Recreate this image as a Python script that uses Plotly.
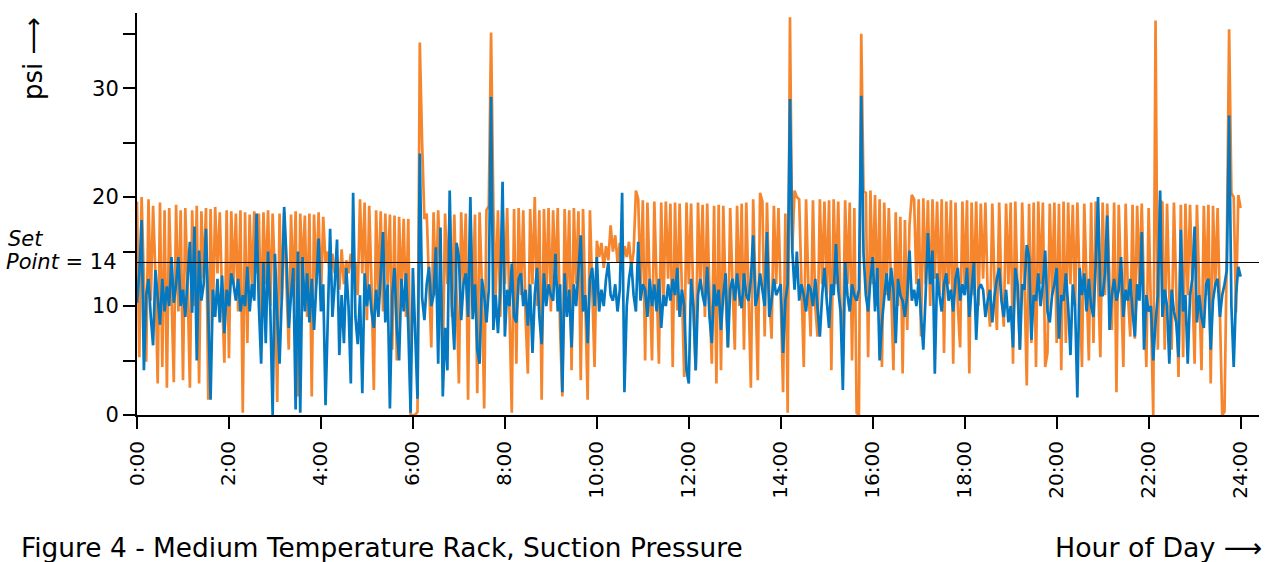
import plotly.graph_objects as go

# Suction pressure readings (psi), sampled every 0.05 h (3 min) from 0:00 to 24:00
step_h = 0.05

blue_psi = (
    [10.3,13.0,17.9,4.1,11.0,12.5,9.0,6.4,13.3,10.5,8.3,12.5,9.5,11.8,10.0,14.5,10.3,12.0,14.5,10.0] +
    [11.5,9.0,12.0,15.9,9.4,17.3,5.0,15.1,10.5,12.0,17.1,9.0,1.4,11.5,9.0,12.5,8.5,12.8,7.5,11.5] +
    [10.0,13.0,12.0,10.5,12.5,9.5,11.0,10.0,13.6,9.5,12.0,10.5,18.5,10.0,4.7,14.0,6.6,15.0,9.5,0.0] +
    [14.8,9.0,4.7,11.0,19.1,14.5,8.0,11.0,13.5,0.5,15.0,0.2,14.5,9.5,13.0,8.5,12.5,7.8,11.5,16.2] +
    [9.5,12.0,0.9,10.0,17.1,9.0,12.0,16.1,5.5,11.0,6.6,13.5,10.0,2.9,20.4,9.0,6.5,11.0,2.0,13.0] +
    [10.0,12.0,9.5,8.0,11.5,9.0,13.0,16.8,8.5,12.0,0.6,11.0,13.5,8.0,5.0,12.5,9.5,13.0,8.0,0.2] +
    [13.5,8.0,1.5,24.0,10.8,8.7,12.0,13.6,10.0,11.0,15.4,4.7,17.2,1.7,8.0,4.1,20.6,10.0,6.0,15.8] +
    [14.5,8.7,12.0,13.0,9.0,20.0,8.8,12.0,6.0,4.7,12.5,11.0,8.5,11.5,29.2,7.8,11.0,7.5,11.5,21.4] +
    [7.2,11.5,10.0,13.9,9.0,8.5,12.5,13.0,10.0,11.5,8.2,12.0,5.7,11.0,13.5,9.0,6.5,13.0,10.0,12.0] +
    [11.0,10.5,14.8,9.5,12.0,2.1,13.0,9.0,11.5,6.2,12.0,10.0,13.5,16.5,9.5,11.0,6.6,12.5,13.5,10.0] +
    [14.5,9.5,11.5,10.0,12.5,14.0,11.0,10.5,12.0,9.5,11.5,20.4,2.1,10.0,12.5,14.0,11.0,9.5,15.9,10.5] +
    [12.0,11.5,9.0,12.5,10.0,12.0,9.5,12.5,8.0,11.0,10.0,12.0,10.5,12.5,11.0,13.5,9.0,11.5,10.0,4.1] +
    [2.9,12.5,10.0,4.1,11.0,12.5,11.0,10.0,13.6,9.0,6.6,12.0,10.0,11.5,7.8,11.0,13.0,6.2,11.5,12.5] +
    [10.5,13.0,11.0,9.8,13.0,11.0,10.5,12.5,16.5,10.0,11.0,13.0,11.5,10.0,16.8,9.0,10.5,12.5,11.0,11.5] +
    [12.0,5.7,10.5,12.0,29.0,15.1,11.5,15.0,10.5,12.0,11.0,9.5,12.0,11.5,10.0,12.5,10.0,7.2,11.0,13.5] +
    [10.5,8.0,12.0,11.0,15.7,11.5,9.5,2.3,14.0,11.0,9.5,12.0,11.0,10.5,11.5,29.3,14.8,11.0,9.5,12.5] +
    [14.5,9.5,13.5,5.0,8.5,11.0,13.0,10.5,13.5,11.5,6.6,12.5,11.0,10.5,9.0,11.0,15.1,10.5,11.5,10.0] +
    [12.5,9.0,6.0,11.0,16.7,12.0,15.1,3.8,13.0,11.0,9.5,12.0,13.0,10.5,11.5,9.5,12.5,13.5,10.5,12.0] +
    [11.0,13.5,9.0,11.5,14.0,6.9,11.5,12.0,11.5,9.0,10.5,11.5,8.5,11.0,12.5,13.5,10.5,9.0,11.5,8.5] +
    [10.0,6.2,13.5,12.0,6.0,12.0,11.5,15.6,14.5,6.9,11.0,10.5,13.0,10.0,12.0,15.1,9.5,8.5,11.0,12.0] +
    [13.5,7.0,11.0,10.5,13.0,10.0,5.5,12.0,10.0,1.6,13.5,11.0,13.0,9.5,12.5,10.0,9.0,14.0,20.0,11.0] +
    [11.0,13.0,18.3,7.8,11.0,12.5,10.5,11.5,14.5,9.0,11.5,10.5,12.5,9.5,7.2,12.0,10.5,16.8,6.0,11.0] +
    [9.5,10.0,5.0,8.5,11.0,20.6,9.0,11.5,10.0,4.7,11.5,9.5,8.5,5.3,17.0,9.5,11.0,4.7,11.0,12.5] +
    [17.3,8.5,11.0,9.0,8.0,12.0,12.5,6.0,10.5,12.0,12.5,9.0,11.0,12.0,13.3,27.5,10.0,4.4,11.0,13.6] +
    [12.7]
)

orange_psi = (
    [19.6,5.3,20.0,12,4.9,19.8,10.5,19.2,13,2.9,19.5,4.4,18.8,2.5,19.0,11,3.0,19.3,9.5,18.8] +
    [3.2,19.0,12,2.5,18.8,10,19.2,2.9,18.7,12.5,19.0,1.4,18.9,9,19.1,13,18.6,11,4.8,18.8] +
    [5.2,18.7,12,18.5,9.5,18.8,0.2,18.6,6.6,18.4,11.5,18.7,13,18.5,8,18.6,12,18.8,10,18.5] +
    [12.5,1.2,18.5,10.5,18.6,12,6.0,18.4,11,18.7,1.7,18.5,13,18.3,9,18.5,1.7,18.4,12,18.6] +
    [10.5,18.2,14.0,15.0,12.5,14.8,13.0,14.5,11.5,15.2,12.0,14.2,13.0,14.8,12.5,14.0,11.0,19.8,13,19.5] +
    [8.7,19.2,12,2.3,18.8,11,18.7,9.5,18.5,12,18.4,6,18.3,5.0,18.2,11,18.0,9,18.0,0.0] +
    [0.0,0.0,0.3,34.2,25.0,18.0,18.5,12,6.2,18.6,11,18.8,13,4.7,18.5,12,18.7,9,18.4,11] +
    [2.9,18.6,12,18.5,1.4,18.7,10,18.4,2.0,18.6,12,0.6,18.8,19.2,35.1,19.0,11,18.8,9,19.0] +
    [12,19.0,10,0.2,18.9,4.7,19.0,11,18.8,9,3.8,18.9,12,20.0,10,18.8,1.4,18.9,11,19.0] +
    [9.5,18.8,12,19.0,8,1.7,18.9,11,18.8,4.1,19.0,12,18.7,3.2,18.9,10,1.4,18.8,11,4.4] +
    [16.0,14.5,15.8,13.5,15.5,14.2,17.4,15.0,16.5,14.0,15.8,13.8,15.5,14.5,15.9,13.5,15.0,20.6,19.8,12] +
    [19.7,5.0,19.5,11,5.0,19.6,12,4.7,19.5,10,19.6,12.5,19.4,4.4,19.5,9.6,19.4,11,3.5,19.5] +
    [12,19.4,10,4.1,19.5,12,19.3,9,19.4,11,4.7,19.2,2.9,19.3,4.1,19.2,11,6.2,19.0,12] +
    [6.0,19.2,10,19.4,6.0,19.5,12,2.5,19.8,11,3.2,20.4,19.6,7.2,19.5,11,7.0,19.2,12,19.0] +
    [10,2.1,18.5,0.2,36.5,15.1,20.6,20.0,19.8,11,4.4,19.8,12,7.2,19.7,10,7.2,19.8,12,19.6] +
    [11,19.7,4.1,19.8,12,19.6,10,5.3,19.7,12,19.5,5.0,19.0,0.2,0.0,35.0,20.5,20.4,5.3,20.6] +
    [12,20.2,10,19.8,4.4,19.5,11,19.0,12,4.1,18.6,10,18.2,3.8,17.9,7.8,17.5,20.2,19.8,12] +
    [19.8,7.2,19.9,12,19.7,10,19.8,12.5,19.6,11,19.8,5.7,19.6,12,19.7,4.7,19.5,10,6.2,19.6] +
    [12,19.7,3.8,19.5,11,19.6,10,19.4,12.5,19.5,11,8.1,19.4,12,7.8,19.5,11,8.1,19.4,12] +
    [19.5,4.7,19.6,11,6.0,19.5,12,2.7,19.4,6.6,19.5,4.4,19.6,12,19.5,4.4,5.7,19.4,11,19.5] +
    [6.6,19.4,4.1,19.6,6.6,19.5,12,19.3,10,19.5,12,4.4,19.4,11,5.0,19.5,6.6,19.6,12,5.3] +
    [19.5,11,19.4,12,7.8,19.5,2.1,19.3,12,4.4,19.4,11,7.2,19.3,7.0,19.2,12,19.4,11,4.4] +
    [19.0,8,0.0,36.2,6.0,19.7,19.5,6.0,19.4,11,6.0,19.5,12,3.5,19.3,5.3,19.4,11,19.3,12] +
    [4.7,19.3,12,4.1,19.2,11,19.3,2.9,19.2,12,19.0,8,0.0,0.3,15,35.4,20.4,20.0,9.4,20.2] +
    [19.0]
)

set_point = 14
x_tick_vals = list(range(0, 25, 2))
x_tick_text = [f"{h}:00" for h in x_tick_vals]
y_tick_vals = [0, 5, 10, 15, 20, 25, 30, 35]
y_tick_text = ["0", "", "10", "", "20", "", "30", ""]

orange_hours = [i * step_h for i in range(len(orange_psi))]
blue_hours = [i * step_h for i in range(len(blue_psi))]

FONT = "DejaVu Sans, Liberation Sans, Arial, sans-serif"

fig = go.Figure()
fig.add_trace(go.Scatter(x=orange_hours, y=orange_psi, mode="lines",
                         line=dict(color="#F5862E", width=2.7), showlegend=False))
fig.add_trace(go.Scatter(x=blue_hours, y=blue_psi, mode="lines",
                         line=dict(color="#0479C1", width=2.7), showlegend=False))

fig.add_shape(type="line", xref="paper", x0=0, x1=1, yref="y", y0=set_point, y1=set_point,
              line=dict(color="black", width=1), layer="above")

W, H = 1277, 562
ml, mr, mt, mb = 137, 18, 13, 147
pw, ph = W - ml - mr, H - mt - mb

def px(xp):
    return (xp - ml) / pw

def py(yp):
    return (H - mb - yp) / ph

anns = [
    dict(text="psi \u27f6", x=px(33), y=py(59), textangle=-90, xanchor="center", yanchor="middle",
         font=dict(size=26)),
    dict(text="<i>Set</i>", x=px(6), y=py(239), xanchor="left", yanchor="middle", font=dict(size=21)),
    dict(text="<i>Point</i> = 14", x=px(119), y=py(262), xanchor="right", yanchor="middle",
         font=dict(size=21)),
    dict(text="Figure 4 - Medium Temperature Rack, Suction Pressure", x=px(19), y=py(547),
         xanchor="left", yanchor="middle", font=dict(size=26.4)),
    dict(text="Hour of Day \u27f6", x=px(1264), y=py(547), xanchor="right", yanchor="middle",
         font=dict(size=26.8)),
]
for a in anns:
    a.update(xref="paper", yref="paper", showarrow=False)
    a["font"].update(family=FONT, color="black")

fig.update_layout(
    width=W, height=H,
    margin=dict(l=ml, r=mr, t=mt, b=mb, pad=0),
    paper_bgcolor="white", plot_bgcolor="white",
    font=dict(family=FONT, size=20, color="black"),
    annotations=anns,
    xaxis=dict(range=[0, 24.4], tickvals=x_tick_vals, ticktext=x_tick_text, tickangle=-90,
               showgrid=False, zeroline=False, showline=True, linecolor="black", linewidth=2,
               ticks="outside", ticklen=12, tickwidth=2, tickcolor="black",
               tickfont=dict(size=20), ticklabelstandoff=4),
    yaxis=dict(range=[0, 36.9], tickvals=y_tick_vals, ticktext=y_tick_text,
               showgrid=False, zeroline=False, showline=True, linecolor="black", linewidth=2,
               ticks="outside", ticklen=12, tickwidth=2, tickcolor="black",
               tickfont=dict(size=21)),
)

fig.write_html("out.html", config={"displayModeBar": False},
               post_script="document.body.style.margin='0';")
